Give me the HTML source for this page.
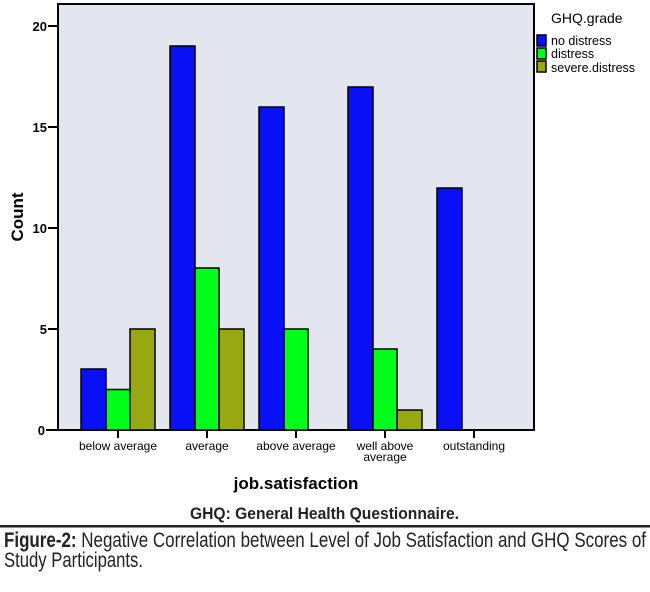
<!DOCTYPE html>
<html><head><meta charset="utf-8"><style>
html,body{margin:0;padding:0;background:#fff;}
svg{display:block;}
</style></head><body>
<svg width="650" height="592" viewBox="0 0 650 592" xmlns="http://www.w3.org/2000/svg" font-family="Liberation Sans, sans-serif">
<rect x="58" y="4" width="476" height="426" fill="#e3e6ef" stroke="#000" stroke-width="2"/>
<g stroke="#000" stroke-width="2">
<line x1="48" y1="26" x2="58" y2="26"/><line x1="48" y1="127" x2="58" y2="127"/><line x1="48" y1="228" x2="58" y2="228"/><line x1="48" y1="329" x2="58" y2="329"/><line x1="46" y1="430" x2="58" y2="430"/>
<line x1="118" y1="430" x2="118" y2="438"/><line x1="207" y1="430" x2="207" y2="438"/><line x1="296" y1="430" x2="296" y2="438"/><line x1="385" y1="430" x2="385" y2="438"/><line x1="474" y1="430" x2="474" y2="438"/>
</g>
<g font-size="13" font-weight="bold" text-anchor="end">
<text x="47" y="31">20</text><text x="47" y="132">15</text><text x="47" y="233">10</text><text x="47" y="334">5</text><text x="45" y="435">0</text>
</g>
<text transform="translate(23,217) rotate(-90)" text-anchor="middle" font-size="17" font-weight="bold">Count</text>
<g stroke="#000" stroke-width="1.5">
<rect x="81" y="369" width="25" height="61" fill="#0a10f5"/>
<rect x="106" y="389.5" width="24" height="40.5" fill="#00ff1a"/>
<rect x="130" y="329" width="25" height="101" fill="#98a812"/>
<rect x="170" y="46" width="25" height="384" fill="#0a10f5"/>
<rect x="195" y="268" width="24" height="162" fill="#00ff1a"/>
<rect x="219" y="329" width="25" height="101" fill="#98a812"/>
<rect x="259" y="107" width="25" height="323" fill="#0a10f5"/>
<rect x="284" y="329" width="24" height="101" fill="#00ff1a"/>
<rect x="348" y="87" width="25" height="343" fill="#0a10f5"/>
<rect x="373" y="349" width="24" height="81" fill="#00ff1a"/>
<rect x="397" y="410" width="25" height="20" fill="#98a812"/>
<rect x="437" y="188" width="25" height="242" fill="#0a10f5"/>
</g>
<g font-size="12" text-anchor="middle">
<text x="118" y="450">below average</text><text x="207" y="450">average</text><text x="296" y="450">above average</text><text x="385" y="450">well above</text><text x="385" y="461">average</text><text x="474" y="450">outstanding</text>
</g>
<text x="296" y="489" text-anchor="middle" font-size="17" font-weight="bold">job.satisfaction</text>
<text x="551" y="23" font-size="14">GHQ.grade</text>
<g stroke="#000" stroke-width="1.5">
<rect x="537" y="35" width="9" height="11" fill="#0a10f5"/>
<rect x="537" y="48" width="9" height="11" fill="#00ff1a"/>
<rect x="537" y="61" width="9" height="11" fill="#98a812"/>
</g>
<g font-size="12.5"><text x="551" y="45">no distress</text><text x="551" y="58">distress</text><text x="551" y="72">severe.distress</text></g>
<text x="190" y="519" font-size="17" font-weight="bold" textLength="269" lengthAdjust="spacingAndGlyphs" fill="#222">GHQ: General Health Questionnaire.</text>
<rect x="0" y="525" width="650" height="2.5" fill="#222"/>
<text x="4" y="547" font-size="21" textLength="642" lengthAdjust="spacingAndGlyphs" fill="#222"><tspan font-weight="bold">Figure-2:</tspan> Negative Correlation between Level of Job Satisfaction and GHQ Scores of</text>
<text x="4" y="567" font-size="21" textLength="139" lengthAdjust="spacingAndGlyphs" fill="#222">Study Participants.</text>
</svg>
</body></html>
